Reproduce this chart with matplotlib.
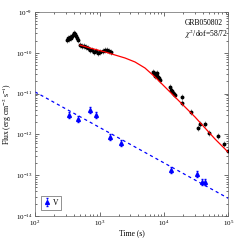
import matplotlib
matplotlib.use('Agg')
import matplotlib.pyplot as plt
import matplotlib.ticker as mtick
import numpy as np

plt.rcParams['font.family'] = ['Liberation Serif', 'DejaVu Serif']
plt.rcParams['mathtext.fontset'] = 'stix'
plt.rcParams['font.size'] = 5

# X-ray data (black)
xray_t = [313, 325, 337, 349, 362, 375, 388, 403, 417, 432, 448, 464,
          498, 535, 575, 617, 663, 712, 765, 822, 883, 948, 1018, 1133,
          1217, 1306, 1403, 1507,
          6750, 7000, 7250, 7500, 7800, 8100, 8400, 8670, 7200, 7700,
          12400, 12800, 13300, 13800, 14300, 14800,
          19000, 19000, 26200, 33700, 36100, 43200, 49900, 68700, 85100, 98000]
xray_f = [2.06e-10, 2.31e-10, 2.18e-10, 2.44e-10, 2.31e-10, 2.58e-10,
          2.73e-10, 3.05e-10, 2.89e-10, 2.58e-10, 2.31e-10, 2.06e-10,
          1.55e-10, 1.47e-10, 1.47e-10, 1.39e-10, 1.31e-10, 1.17e-10,
          1.17e-10, 1.05e-10, 1.11e-10, 9.9e-11, 1.05e-10, 1.11e-10,
          1.17e-10, 1.17e-10, 1.11e-10, 1.05e-10,
          3.4e-11, 3.2e-11, 3.0e-11, 3.0e-11, 2.7e-11, 2.5e-11, 2.35e-11, 2.2e-11,
          2.7e-11, 3.2e-11,
          1.45e-11, 1.22e-11, 1.16e-11, 1.03e-11, 9.8e-12, 9.2e-12,
          8.3e-12, 5.9e-12, 3.5e-12, 1.44e-12, 1.8e-12, 1.8e-12, 1.08e-12,
          9.1e-13, 5.8e-13, 3.9e-13]

# model curve (red)
fit_t = [498, 712, 1217, 1740, 2485, 3550, 5070, 7250, 10370, 14820,
         21180, 30270, 43200, 61800, 88300, 100000]
fit_f = [1.55e-10, 1.31e-10, 1.05e-10, 8.83e-11, 7.46e-11, 5.96e-11,
         4.24e-11, 2.55e-11, 1.45e-11, 8.26e-12, 4.70e-12, 2.67e-12,
         1.44e-12, 7.71e-13, 4.39e-13, 3.6e-13]

# optical V band (blue)
v_t = [337, 464, 712, 883, 1455, 2150, 12800, 32500, 38800, 43200]
v_f = [3.0e-12, 2.4e-12, 4.0e-12, 3.0e-12, 8.7e-13, 6.2e-13,
       1.35e-13, 1.07e-13, 6.8e-14, 6.8e-14]
v_line_t = [100, 100000]
v_line_f = [1.1e-11, 2.7e-14]

fig = plt.figure(figsize=(2.4, 2.4), dpi=100)
ax = fig.add_axes([0.146, 0.1, 0.806, 0.85])

xf = np.array(xray_f)
ax.errorbar(xray_t, xf, yerr=[xf * 0.15, xf * 0.18], fmt='o', color='k',
            ms=1.8, elinewidth=0.4, ecolor='0.35', capsize=0, zorder=3)
ax.plot(fit_t, fit_f, color='red', lw=0.9, zorder=4)

vf = np.array(v_f)
ax.errorbar(v_t, vf, yerr=[vf * 0.15, vf * 0.2], fmt='^', color='blue',
            ms=2.8, elinewidth=0.5, capsize=1, zorder=3, label='V')
ax.plot(v_line_t, v_line_f, color='blue', lw=0.9, ls=(0, (2.5, 2.5)), zorder=2)

ax.set_xscale('log')
ax.set_yscale('log')
ax.set_xlim(1e2, 1e5)
ax.set_ylim(1e-14, 1e-9)
ax.xaxis.set_minor_formatter(mtick.NullFormatter())
ax.yaxis.set_minor_formatter(mtick.NullFormatter())
ax.set_xlabel('Time (s)', fontsize=5.5, labelpad=0.5)
ax.set_ylabel('Flux (erg cm$^{-2}$ s$^{-1}$)', fontsize=5.5, labelpad=1)

ax.tick_params(which='both', direction='in', top=True, right=True,
               width=0.4, labelsize=5, pad=2)
ax.tick_params(which='major', length=3)
ax.tick_params(which='minor', length=1.5)
for s in ax.spines.values():
    s.set_linewidth(0.5)
    s.set_color('0.4')

ax.text(0.775, 0.946, 'GRB050802', transform=ax.transAxes, fontsize=5.5,
        va='center')
ax.text(0.775, 0.893, r'$\chi^2$/dof=58/72', transform=ax.transAxes,
        fontsize=5.5, va='center')

leg = ax.legend(loc='lower left', fontsize=5.5, handlelength=0.8,
                handletextpad=0.3, borderpad=0.4, fancybox=False,
                framealpha=1, borderaxespad=0.8)
leg.get_frame().set_linewidth(0.5)
leg.get_frame().set_edgecolor('0.4')

fig.savefig('out.png', dpi=100)
